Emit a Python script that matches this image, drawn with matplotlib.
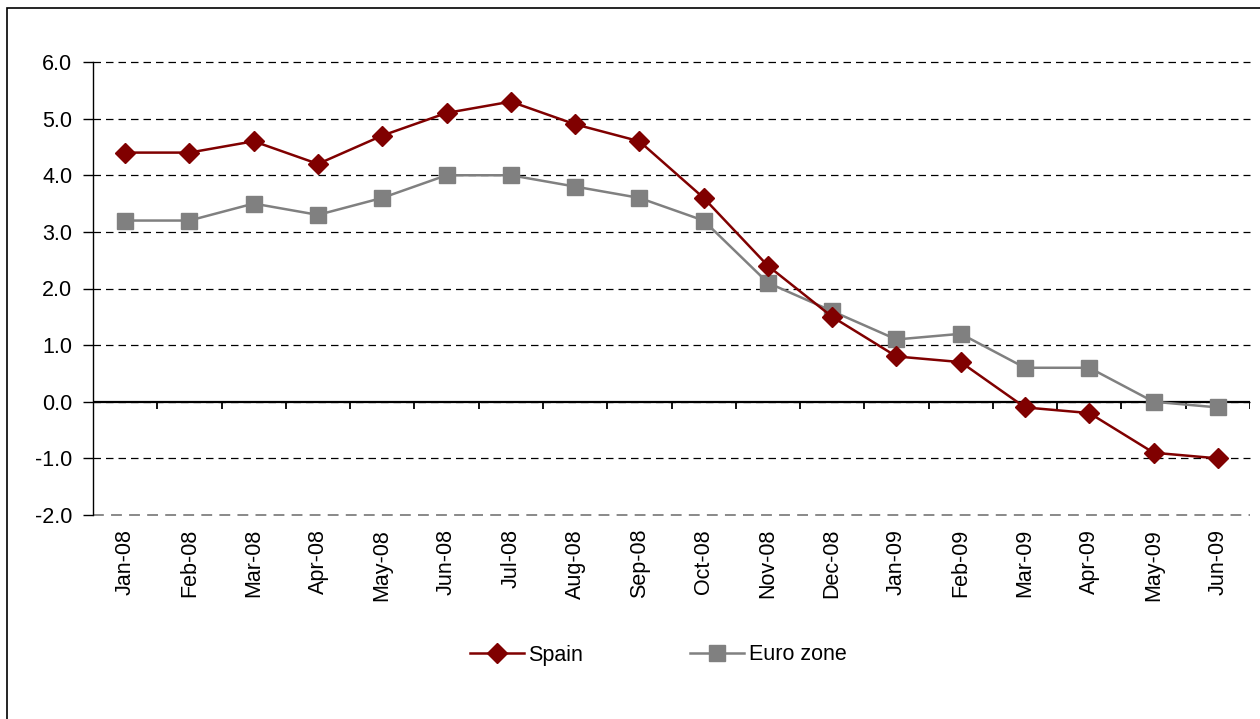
import numpy as np
import matplotlib
matplotlib.use('Agg')
import matplotlib.pyplot as plt
from matplotlib.patches import Rectangle

plt.rcParams['font.family'] = ['Liberation Sans', 'DejaVu Sans']

# dane
months = ['Jan-08', 'Feb-08', 'Mar-08', 'Apr-08', 'May-08', 'Jun-08', 'Jul-08', 'Aug-08', 'Sep-08',
          'Oct-08', 'Nov-08', 'Dec-08', 'Jan-09', 'Feb-09', 'Mar-09', 'Apr-09', 'May-09', 'Jun-09']
spain = [4.4, 4.4, 4.6, 4.2, 4.7, 5.1, 5.3, 4.9, 4.6, 3.6, 2.4, 1.5, 0.8, 0.7, -0.1, -0.2, -0.9, -1.0]
euro_zone = [3.2, 3.2, 3.5, 3.3, 3.6, 4.0, 4.0, 3.8, 3.6, 3.2, 2.1, 1.6, 1.1, 1.2, 0.6, 0.6, 0.0, -0.1]
y_ticks = [-2.0, -1.0, 0.0, 1.0, 2.0, 3.0, 4.0, 5.0, 6.0]


def main():
    fig = plt.figure(figsize=(12.6, 7.19), dpi=100)
    ax = fig.add_axes([93 / 1260, 1 - 515 / 719, (1250 - 93) / 1260, (515 - 62) / 719])

    # ramka wykresu
    fig.patches.append(Rectangle((7 / 1260, -0.5), 2, 0.5 + 1 - 8 / 719, transform=fig.transFigure,
                                 fill=False, edgecolor='black', linewidth=1.2))

    x = np.arange(len(months))

    # linie siatki
    for v in y_ticks:
        c = '#808080' if v == y_ticks[0] else 'black'
        lw = 1.3 if v == y_ticks[0] else 0.9
        ax.axhline(v, color=c, linestyle=(0, (6, 4)), linewidth=lw, zorder=1, clip_on=False)

    # os x na poziomie zera
    ax.axhline(0, color='black', linewidth=1.6, zorder=2)
    ax.vlines(np.arange(-0.5, len(months)), 0, -0.12, color='black', linewidth=1.3, zorder=2)

    ax.plot(x, euro_zone, color='#808080', linewidth=1.8, marker='s', markersize=11,
            label='Euro zone', zorder=3)
    ax.plot(x, spain, color='#800000', linewidth=1.8, marker='D', markersize=10,
            label='Spain', zorder=4)

    ax.set_xlim(-0.5, len(months) - 0.5)
    ax.set_ylim(-2.0, 6.0)
    ax.set_yticks(y_ticks)
    ax.set_yticklabels(['%.1f' % v for v in y_ticks], fontsize=15.5)
    ax.set_xticks(x)
    ax.set_xticklabels(months, rotation=90, fontsize=15.5)
    ax.tick_params(axis='x', length=0, pad=10)
    ax.tick_params(axis='y', length=7, width=1, pad=8, direction='out')

    for s in ['top', 'right', 'bottom']:
        ax.spines[s].set_visible(False)
    ax.spines['left'].set_linewidth(1.0)

    handles, labels = ax.get_legend_handles_labels()
    fig.legend(handles[::-1], labels[::-1], loc='center', bbox_to_anchor=(658 / 1260, 1 - 655 / 719),
               ncol=2, frameon=False, fontsize=15.5, handlelength=2.5, handletextpad=0.2,
               columnspacing=5.0)

    fig.savefig('out.png', dpi=100)


if __name__ == '__main__':
    main()
